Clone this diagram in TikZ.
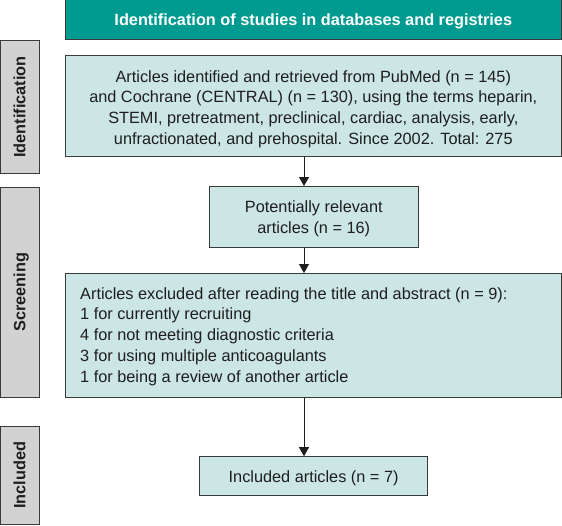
\documentclass[tikz,border=0pt]{standalone}
\usepackage{fontspec}
\setmainfont{Liberation Sans}
\usetikzlibrary{arrows.meta}
\definecolor{hdrteal}{HTML}{009B90}
\definecolor{boxfill}{HTML}{CCE5E5}
\definecolor{sidegray}{HTML}{D2D2D2}
\definecolor{edgegray}{HTML}{3A3A3A}
\definecolor{txt}{HTML}{1E1E1E}
\tikzset{
  shell/.style={draw=edgegray, line width=1pt, inner sep=0pt},
  flowbox/.style={shell, fill=boxfill},
  hdrbox/.style={shell, fill=hdrteal},
  sidebox/.style={shell, fill=sidegray},
  bodytext/.style={text=txt, inner sep=0pt, font=\fontsize{16.3}{20.7}\selectfont},
  hdrtext/.style={text=white, inner sep=0pt, font=\fontsize{16.3}{20}\selectfont\bfseries},
  sidelabel/.style={rotate=90, anchor=base, text=txt, inner sep=0pt, font=\fontsize{16.3}{20}\selectfont\bfseries},
  arr/.style={draw=txt, line width=0.9pt, -{Triangle[width=10pt,length=9pt]}}
}
\begin{document}
\begin{tikzpicture}[x=1pt,y=-1pt]
\useasboundingbox (0,0) rectangle (562,525);
% header
\node[hdrbox, minimum width=495.3pt, minimum height=40pt] (hdr) at (313.35,19.3) {};
\node[hdrtext, anchor=base] (hdrt) at (313.3,25.7) {Identification of studies in databases and registries};
% side boxes
\node[sidebox, minimum width=39.3pt, minimum height=132.6pt] (sid) at (19.65,107) {};
\node[sidelabel] (sidt) at (25.4,107) {Identification};
\node[sidebox, minimum width=39.3pt, minimum height=209.7pt] (sscr) at (19.65,292.15) {};
\node[sidelabel] (sscrt) at (25.4,292) {Screening};
\node[sidebox, minimum width=39.3pt, minimum height=98pt] (sinc) at (19.65,475.7) {};
\node[sidelabel] (sinct) at (25.4,475.3) {Included};
% flow boxes
\node[flowbox, minimum width=495.3pt, minimum height=101.7pt] (b1) at (313.35,105.85) {};
\node[bodytext, align=center] (b1t) at (313.3,109.1)
  {Articles identified and retrieved from PubMed (n = 145)\\
   and Cochrane (CENTRAL) (n = 130), using the terms heparin,\\
   STEMI, pretreatment, preclinical, cardiac, analysis, early,\\
   unfractionated, and prehospital. Since 2002. Total: 275};
\node[flowbox, minimum width=209pt, minimum height=60.5pt] (b2) at (313.8,216.75) {};
\node[bodytext, align=center] (b2t) at (313.8,218.5)
  {Potentially relevant\\articles (n = 16)};
\node[flowbox, minimum width=495.3pt, minimum height=123.8pt] (b3) at (313.35,335.4) {};
\node[bodytext, align=left, anchor=west] (b3t) at (80,336.4)
  {Articles excluded after reading the title and abstract (n = 9):\\
   1 for currently recruiting\\
   4 for not meeting diagnostic criteria\\
   3 for using multiple anticoagulants\\
   1 for being a review of another article};
\node[flowbox, minimum width=228pt, minimum height=38.4pt] (b4) at (313.3,475.9) {};
\node[bodytext, anchor=base] (b4t) at (313.6,482) {Included articles (n = 7)};
% arrows
\draw[arr] (b1.south -| 304,0) -- (b2.north -| 304,0);
\draw[arr] (b2.south -| 304,0) -- (b3.north -| 304,0);
\draw[arr] (b3.south -| 304,0) -- (b4.north -| 304,0);
\end{tikzpicture}
\end{document}
